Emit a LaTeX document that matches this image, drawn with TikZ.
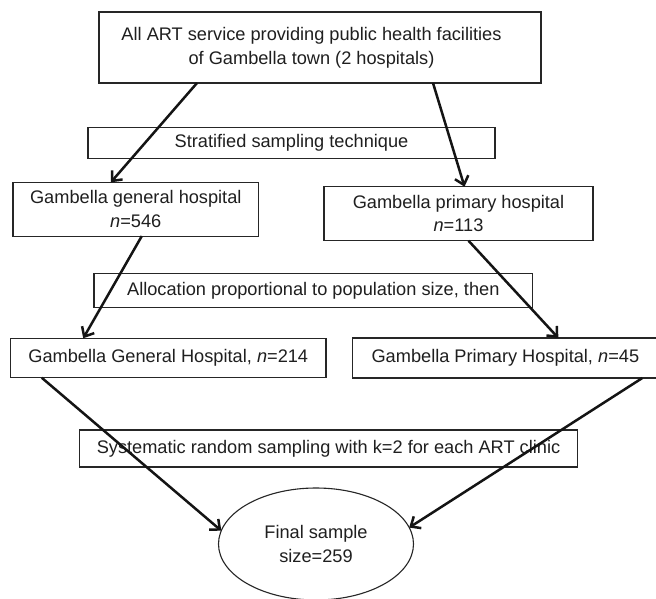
\documentclass[tikz,border=0pt]{standalone}
\usepackage{fontspec}
\setmainfont{Liberation Sans}
\usetikzlibrary{arrows.meta,shapes.geometric,calc}
\begin{document}
\begin{tikzpicture}[x=1pt,y=-1pt,
  txt/.style={font=\fontsize{18.2}{23.5}\selectfont, text=black!88, align=center, inner sep=0pt},
  box/.style={txt, draw=black!85, line width=1.1pt, outer sep=0pt},
  conn/.style={draw=black!92, line width=2.5pt, -{Straight Barb[length=8pt,width=14pt]}}
]
\clip (0,0) rectangle (656,599);
\fill[white] (0,0) rectangle (656,599);
% boxes
\node[box, minimum width=442pt, minimum height=71pt] (top) at (320,47.5) {};
\node[txt] (toptext) at (311.5,48) {All ART service providing public health facilities\\of Gambella town (2 hospitals)};
\node[box, minimum width=407pt, minimum height=30.5pt] (strat) at (291.5,143) {Stratified sampling technique};
\node[box, minimum width=245.6pt, minimum height=53.7pt] (gen) at (135.8,209.2) {Gambella general hospital\\\textit{n}=546};
\node[box, minimum width=269pt, minimum height=54pt] (prim) at (458.5,213.7) {Gambella primary hospital\\\textit{n}=113};
\node[box, minimum width=438.6pt, minimum height=34pt] (alloc) at (313.3,290.3) {Allocation proportional to population size, then};
\node[box, minimum width=315.5pt, minimum height=39.5pt] (gen214) at (168.25,358) {Gambella General Hospital, \textit{n}=214};
\node[box, minimum width=305.3pt, minimum height=40pt] (prim45) at (505.35,358) {Gambella Primary Hospital, \textit{n}=45};
\node[box, minimum width=498pt, minimum height=37pt] (sys) at (328.5,448.5) {Systematic random sampling with k=2 for each ART clinic};
\node[box, ellipse, minimum width=195pt, minimum height=112pt] (final) at (316,544) {Final sample\\size=259};
% connectors
\draw[conn] ($(top.south)+(-123,0)$) -- ($(gen.north)+(-25,0)$);
\draw[conn] ($(top.south)+(113,0)$) -- ($(prim.north)+(6,0)$);
\draw[conn] ($(gen.south)+(6,0)$) -- ($(gen214.north)+(-85,0)$);
\draw[conn] ($(prim.south)+(10,0)$) -- ($(prim45.north)+(53,0)$);
\draw[conn] ($(gen214.south)+(-126.5,0)$) -- (final.172);
\draw[conn] ($(prim45.south)+(137,0)$) -- (final.10);
\end{tikzpicture}
\end{document}
